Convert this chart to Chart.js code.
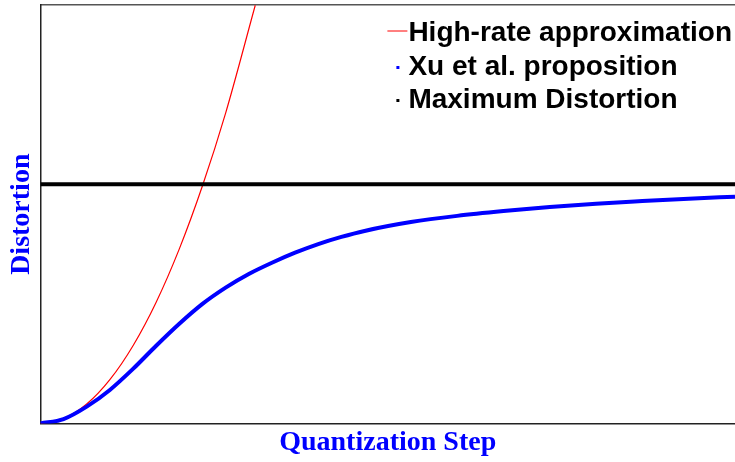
<!DOCTYPE html>
<html>
<head>
<meta charset="utf-8">
<script src="https://cdn.jsdelivr.net/npm/chart.js@4/dist/chart.umd.min.js"></script>
<style>
  html, body { margin: 0; padding: 0; background: #fff; }
  #wrap { width: 735px; height: 462px; }
</style>
</head>
<body>
<div id="wrap"><canvas id="dist-chart"></canvas></div>
<script>
// values (quantization step in units of sigma, distortion relative to max)
const highRateStep = [0, 0.5, 1.0, 1.5, 2.0, 2.5, 3.0, 3.5, 4.0, 4.64];
const highRateDistortion = [0, 0.020, 0.081, 0.183, 0.325, 0.507, 0.730, 0.994, 1.298, 1.749];

const xuStep = [0, 0.5, 1.0, 1.5, 2.0, 2.5, 3.0, 3.5, 4.0, 4.5, 5.0, 5.5, 6.0, 6.5, 7.0,
  8.0, 9.0, 10.0, 11.0, 12.0, 13.0, 14.0, 15.0];
const xuDistortion = [0, 0.018, 0.070, 0.140, 0.228, 0.325, 0.417, 0.500, 0.568, 0.625, 0.672, 0.714, 0.750, 0.780, 0.805,
  0.842, 0.868, 0.888, 0.905, 0.919, 0.930, 0.940, 0.948];

const maxStep = [0, 15];
const maxDistortion = [1, 1];

const legendLabels = ['High-rate approximation', 'Xu et al. proposition', 'Maximum Distortion'];

const toPoints = (xs, ys) => xs.map((x, i) => ({x: x, y: ys[i]}));

// legend drawn inside the plot, top right, like the original
const insideLegend = {
  id: 'insideLegend',
  afterDraw(chart) {
    const ctx = chart.ctx;
    const area = chart.chartArea;
    const textX = area.left + 368;
    const rows = [32, 66, 99];
    ctx.save();
    ctx.font = 'bold 28px "Liberation Sans", Arial, sans-serif';
    ctx.textBaseline = 'middle';
    chart.data.datasets.forEach((ds, i) => {
      const y = rows[i];
      if (ds.legendMarker === 'line') {
        ctx.strokeStyle = ds.borderColor;
        ctx.lineWidth = 1;
        ctx.beginPath();
        ctx.moveTo(textX - 21, y - 1);
        ctx.lineTo(textX - 1, y - 1);
        ctx.stroke();
      } else {
        ctx.fillStyle = ds.borderColor;
        ctx.fillRect(textX - 12, y, 3, 3);
      }
      ctx.fillStyle = '#000';
      ctx.fillText(ds.label, textX, y + 1);
    });
    ctx.restore();
  }
};

const ctx = document.getElementById('dist-chart').getContext('2d');
new Chart(ctx, {
  type: 'line',
  data: {
    datasets: [
      {
        label: legendLabels[0],
        legendMarker: 'line',
        data: toPoints(highRateStep, highRateDistortion),
        borderColor: '#ff0000',
        borderWidth: 1.2,
        pointRadius: 0,
        cubicInterpolationMode: 'monotone',
        order: 3
      },
      {
        label: legendLabels[1],
        legendMarker: 'dot',
        data: toPoints(xuStep, xuDistortion),
        borderColor: '#0000ff',
        borderWidth: 4,
        pointRadius: 0,
        cubicInterpolationMode: 'monotone',
        order: 1
      },
      {
        label: legendLabels[2],
        legendMarker: 'dot',
        data: toPoints(maxStep, maxDistortion),
        borderColor: '#000000',
        borderWidth: 4,
        pointRadius: 0,
        order: 2
      }
    ]
  },
  options: {
    responsive: true,
    maintainAspectRatio: false,
    animation: false,
    layout: {padding: {top: 5, right: 0, left: 0, bottom: 0}},
    plugins: {
      legend: {display: false},
      tooltip: {enabled: false}
    },
    scales: {
      x: {
        type: 'linear',
        min: 0,
        max: 15,
        grid: {display: false, drawTicks: false},
        ticks: {display: false},
        border: {display: true, color: '#222', width: 1.5},
        title: {
          display: true,
          text: 'Quantization Step',
          color: '#0000ff',
          font: {family: '"Liberation Serif", "Times New Roman", serif', size: 28, weight: 'bold', lineHeight: 1.2},
          padding: {top: 3, bottom: 2}
        }
      },
      xTop: {
        type: 'linear',
        position: 'top',
        min: 0,
        max: 15,
        grid: {display: false, drawTicks: false},
        ticks: {display: false},
        border: {display: true, color: '#555', width: 1.5}
      },
      y: {
        min: 0,
        max: 1.75,
        grid: {display: false, drawTicks: false},
        ticks: {display: false},
        border: {display: true, color: '#222', width: 1.5},
        title: {
          display: true,
          text: 'Distortion',
          color: '#0000ff',
          font: {family: '"Liberation Serif", "Times New Roman", serif', size: 28, weight: 'bold', lineHeight: 1.3},
          padding: {top: 4, bottom: 0}
        }
      }
    }
  },
  plugins: [insideLegend]
});
</script>
</body>
</html>
